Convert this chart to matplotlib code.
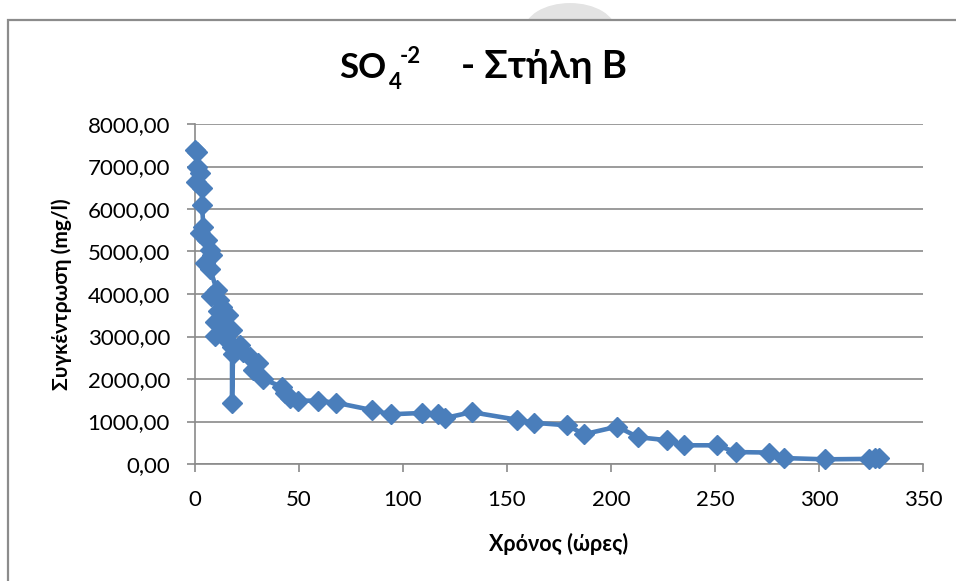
import matplotlib
matplotlib.use("Agg")
import matplotlib.pyplot as plt
from matplotlib.patches import Rectangle, Circle
from matplotlib.ticker import FuncFormatter

plt.rcParams['font.family'] = ['Lato', 'Open Sans', 'DejaVu Sans']

# Sampling time (hours) and sulphate concentration (mg/l), in measurement order
time_h = [0, 1, 1, 2.4, 0.5, 3.4, 3.4, 4, 2.6, 5.8, 7.2, 8.2, 5, 7.2,
          10.5, 7.5, 11.5, 13, 11, 15.9, 9.6, 13, 18, 9.6, 15.4, 17.8,
          17.8, 18.3, 21.6, 23, 26.4, 30.3, 28, 32.7, 42, 43.5, 45.7,
          49.5, 59, 68, 85, 94, 109, 117, 120, 133, 155, 163, 179, 187,
          203, 213, 227, 235, 251, 260, 276, 283, 303, 324, 327, 329]
so4_mg_l = [7390, 7340, 6990, 6850, 6640, 6500, 6100, 5580, 5440, 5270,
            5030, 4920, 4730, 4600, 4090, 3950, 3860, 3700, 3600, 3500,
            3340, 3270, 3150, 3020, 2920, 2760, 1440, 2580, 2800, 2640,
            2520, 2380, 2220, 2000, 1810, 1670, 1550, 1490, 1490, 1440,
            1270, 1170, 1200, 1170, 1080, 1220, 1040, 970, 910, 700, 880,
            630, 560, 440, 440, 280, 270, 140, 110, 120, 130, 140]

x_ticks = [0, 50, 100, 150, 200, 250, 300, 350]
y_ticks = [0, 1000, 2000, 3000, 4000, 5000, 6000, 7000, 8000]

W, H = 956, 581
fig = plt.figure(figsize=(W / 100, H / 100), dpi=100)
fig.patch.set_facecolor('white')


def fx(px):
    return px / W


def fy(py):
    return 1 - py / H


# light grey blob behind the chart frame, then the framed chart area
fig.add_artist(Circle((fx(570), fy(31)), 46 / W, transform=fig.transFigure,
                      facecolor='#e3e3e3', edgecolor='none', zorder=0))
fig.add_artist(Rectangle((fx(8), fy(600)), fx(1000) - fx(8), fy(20) - fy(600),
                         transform=fig.transFigure, facecolor='white',
                         edgecolor='#8c8c8c', linewidth=1.6, zorder=1))

ax = fig.add_axes([fx(195), fy(464), fx(923) - fx(195), fy(124) - fy(464)])
ax.set_zorder(2)
ax.patch.set_alpha(0)

ax.plot(time_h, so4_mg_l, color='#4a7ebb', linewidth=3.3, marker='D',
        markersize=10, markeredgecolor='#4a7ebb', markerfacecolor='#4a7ebb',
        solid_joinstyle='round', zorder=3, clip_on=False)

ax.set_xlim(0, 350)
ax.set_ylim(0, 8000)
ax.set_xticks(x_ticks)
ax.set_yticks(y_ticks)
ax.yaxis.set_major_formatter(FuncFormatter(lambda v, p: f"{v:.2f}".replace('.', ',')))
ax.xaxis.set_major_formatter(FuncFormatter(lambda v, p: f"{v:.0f}"))

ax.grid(axis='y', color='#8a8a8a', linewidth=1.2)
ax.grid(axis='x', visible=False)
ax.set_axisbelow(True)
for side in ('top', 'right'):
    ax.spines[side].set_visible(False)
for side in ('left', 'bottom'):
    ax.spines[side].set_color('#8a8a8a')
    ax.spines[side].set_linewidth(1.2)

ax.tick_params(axis='both', colors='#8a8a8a', labelcolor='black',
               labelsize=16, length=6, width=1.2, direction='out')
ax.tick_params(axis='y', pad=12)
ax.tick_params(axis='x', pad=13)

ax.set_xlabel('Χρόνος (ώρες)', fontsize=15.5, fontweight='bold', labelpad=16)
ax.set_ylabel('Συγκέντρωση (mg/l)', fontsize=15, fontweight='bold', labelpad=11)

# title: SO4^-2 - Στήλη Β with subscript and superscript
title_kw = dict(fontweight='bold', color='black', va='baseline', zorder=5)
fig.text(fx(339), fy(78), 'SO', fontsize=25, ha='left', **title_kw)
fig.text(fx(389), fy(89), '4', fontsize=16, ha='left', **title_kw)
fig.text(fx(400), fy(63), '-2', fontsize=16, ha='left', **title_kw)
fig.text(fx(544), fy(78), '- Στήλη Β', fontsize=27.5, ha='center', **title_kw)

fig.savefig('out.png', dpi=100)
